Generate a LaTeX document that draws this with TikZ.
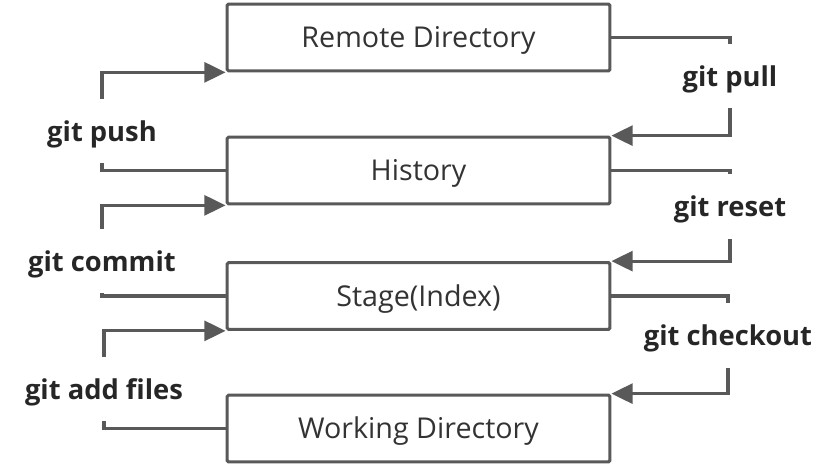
\documentclass[tikz,border=0pt]{standalone}
\usepackage{fontspec}
\setmainfont{Open Sans}
\usetikzlibrary{arrows.meta}
\definecolor{linea}{HTML}{595959}
\definecolor{testo}{HTML}{333333}
\begin{document}
\begin{tikzpicture}[
	x=0.75pt, y=-0.75pt,
	>={Triangle[length=16pt,width=15pt]},
	scatola/.style={draw=linea, line width=2.3pt, rounded corners=1pt, minimum width=287pt, minimum height=50pt, inner sep=0pt, text height=15.5pt, text depth=0pt, text=testo, font=\fontsize{21.5}{24}\selectfont},
	comando/.style={minimum height=48pt, inner sep=0pt, text height=15.5pt, text depth=0pt, text=black!85, font=\fontsize{20.5}{23}\selectfont\bfseries},
	flusso/.style={draw=linea, line width=2.3pt}]
	
	\useasboundingbox (0,0) rectangle (837,466);
	
	\def\xC{418.5}  %% centro delle scatole
	
	%% --- le quattro aree ---
	\node[scatola] (remote)  at (\xC,37.5)  {Remote Directory};
	\node[scatola] (history) at (\xC,170.5) {History};
	\node[scatola] (stage)   at (\xC,296)   {Stage(Index)};
	\node[scatola] (working) at (\xC,428.5) {Working Directory};
	
	%% --- comandi a sinistra (verso l'alto) ---
	\node[comando] (push)   at (102,131) {git push};
	\node[comando] (commit) at (102,261) {git commit};
	\node[comando] (add)    at (104,389) {git add files};
	
	%% --- comandi a destra (verso il basso) ---
	\node[comando] (pull)     at (730,76)    {git pull};
	\node[comando] (reset)    at (730,206.5) {git reset};
	\node[comando] (checkout) at (728,335.5) {git checkout};
	
	%% --- frecce a sinistra ---
	\draw[flusso] (history.west) -| (push.south);
	\draw[flusso,->] (push.north) |- (remote.south west);
	\draw[flusso] (stage.west) -| (commit.south);
	\draw[flusso,->] (commit.north) |- (history.south west);
	\draw[flusso] (working.west) -| (add.south);
	\draw[flusso,->] (add.north) |- (stage.south west);
	
	%% --- frecce a destra ---
	\draw[flusso] (remote.east) -| (pull.north);
	\draw[flusso,->] (pull.south) |- (history.north east);
	\draw[flusso] (history.east) -| (reset.north);
	\draw[flusso,->] (reset.south) |- (stage.north east);
	\draw[flusso] (stage.east) -| (checkout.north);
	\draw[flusso,->] (checkout.south) |- (working.north east);
	
\end{tikzpicture}
\end{document}
